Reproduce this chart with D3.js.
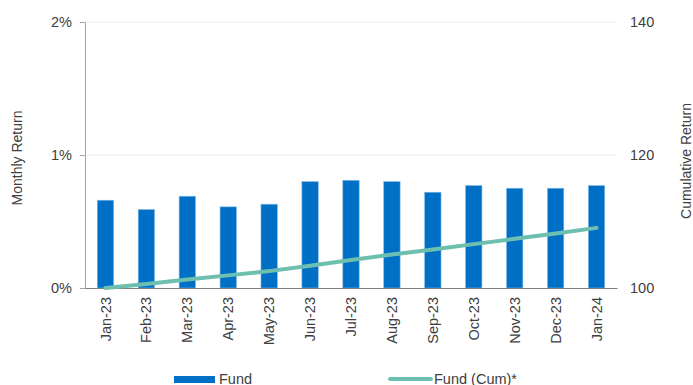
<!DOCTYPE html>
<html>
<head>
<meta charset="utf-8">
<script src="https://cdn.jsdelivr.net/npm/d3@7"></script>
<style>
  html, body { margin: 0; padding: 0; background: #fff; }
  svg { display: block; font-family: "Liberation Sans", Arial, sans-serif; }
</style>
</head>
<body>
<svg id="chart" width="693" height="385"></svg>
<script>
// Monthly fund returns (%) and the cumulative index (base 100)
const months = ["Jan-23","Feb-23","Mar-23","Apr-23","May-23","Jun-23","Jul-23",
                "Aug-23","Sep-23","Oct-23","Nov-23","Dec-23","Jan-24"];
const monthlyReturn = [0.66, 0.59, 0.69, 0.61, 0.63, 0.80, 0.81, 0.80, 0.72, 0.77, 0.75, 0.75, 0.77];
const cumulative = [100, 100.59, 101.28, 101.90, 102.54, 103.36, 104.20, 105.03, 105.79, 106.60, 107.40, 108.21, 109.04];
const leftTicks = [0, 1, 2];
const rightTicks = [100, 120, 140];

const svg = d3.select("#chart");
const m = { left: 85, right: 617, top: 22, bottom: 288 };
const font = "Liberation Sans, Arial, sans-serif";
const tickSize = 14.5;

const x = d3.scaleBand().domain(months).range([m.left, m.right]).paddingInner(0.6).paddingOuter(0.3);
const yL = d3.scaleLinear().domain([0, 2]).range([m.bottom, m.top]);
const yR = d3.scaleLinear().domain([100, 140]).range([m.bottom, m.top]);

const textColor = "#404040";

// Gridlines
svg.append("g").selectAll("line").data(leftTicks.filter(d => d > 0)).join("line")
  .attr("x1", m.left).attr("x2", m.right)
  .attr("y1", d => yL(d)).attr("y2", d => yL(d))
  .attr("stroke", "#d9d9d9").attr("stroke-width", 1).attr("stroke-dasharray", "1,1");

// Left axis
const left = svg.append("g").attr("transform", `translate(${m.left},0)`)
  .call(d3.axisLeft(yL).tickValues(leftTicks).tickFormat(d => d + "%").tickSize(5).tickPadding(8));
left.select(".domain").attr("stroke", "#a6a6a6");
left.selectAll(".tick line").attr("stroke", "#a6a6a6");
left.selectAll(".tick text").attr("fill", textColor).attr("font-size", tickSize).attr("font-family", font);

// Right axis (labels only)
const right = svg.append("g").attr("transform", `translate(${m.right},0)`)
  .call(d3.axisRight(yR).tickValues(rightTicks).tickSize(0).tickPadding(13));
right.select(".domain").remove();
right.selectAll(".tick text").attr("fill", textColor).attr("font-size", tickSize).attr("font-family", font);

// Bars
svg.append("g").selectAll("rect").data(monthlyReturn).join("rect")
  .attr("x", (d, i) => x(months[i]))
  .attr("y", d => yL(d))
  .attr("width", x.bandwidth())
  .attr("height", d => yL(0) - yL(d))
  .attr("fill", "#0070c6")
  .attr("stroke", "#7fb8e6").attr("stroke-width", 0.6);

// Bottom axis
const bottom = svg.append("g").attr("transform", `translate(0,${m.bottom})`)
  .call(d3.axisBottom(x).tickSize(0).tickPadding(0));
bottom.select(".domain").attr("stroke", "#808080").attr("stroke-width", 1.2);
bottom.selectAll(".tick text")
  .attr("fill", textColor).attr("font-size", tickSize).attr("font-family", font)
  .attr("transform", "rotate(-90)")
  .attr("text-anchor", "end")
  .attr("dx", "-9").attr("dy", "0.35em").attr("y", 0);

// Cumulative line
const line = d3.line()
  .x((d, i) => x(months[i]) + x.bandwidth() / 2)
  .y(d => yR(d));
svg.append("path").datum(cumulative)
  .attr("d", line)
  .attr("fill", "none")
  .attr("stroke", "#6dbfaf")
  .attr("stroke-width", 4)
  .attr("stroke-linecap", "round");

// Axis titles
svg.append("text").attr("transform", `translate(22,158) rotate(-90)`)
  .attr("text-anchor", "middle").attr("font-size", 14).attr("fill", textColor)
  .text("Monthly Return");
svg.append("text").attr("transform", `translate(691,161) rotate(-90)`)
  .attr("text-anchor", "middle").attr("font-size", 14).attr("fill", textColor)
  .text("Cumulative Return");

// Legend
const lg = svg.append("g");
lg.append("rect").attr("x", 174).attr("y", 376).attr("width", 41).attr("height", 7).attr("fill", "#0070c6");
lg.append("text").attr("x", 219).attr("y", 383.5).attr("font-size", tickSize).attr("fill", textColor).text("Fund");
lg.append("line").attr("x1", 390).attr("x2", 431).attr("y1", 379).attr("y2", 379)
  .attr("stroke", "#6dbfaf").attr("stroke-width", 4).attr("stroke-linecap", "round");
lg.append("text").attr("x", 434).attr("y", 383.5).attr("font-size", tickSize).attr("fill", textColor).text("Fund (Cum)*");
</script>
</body>
</html>
